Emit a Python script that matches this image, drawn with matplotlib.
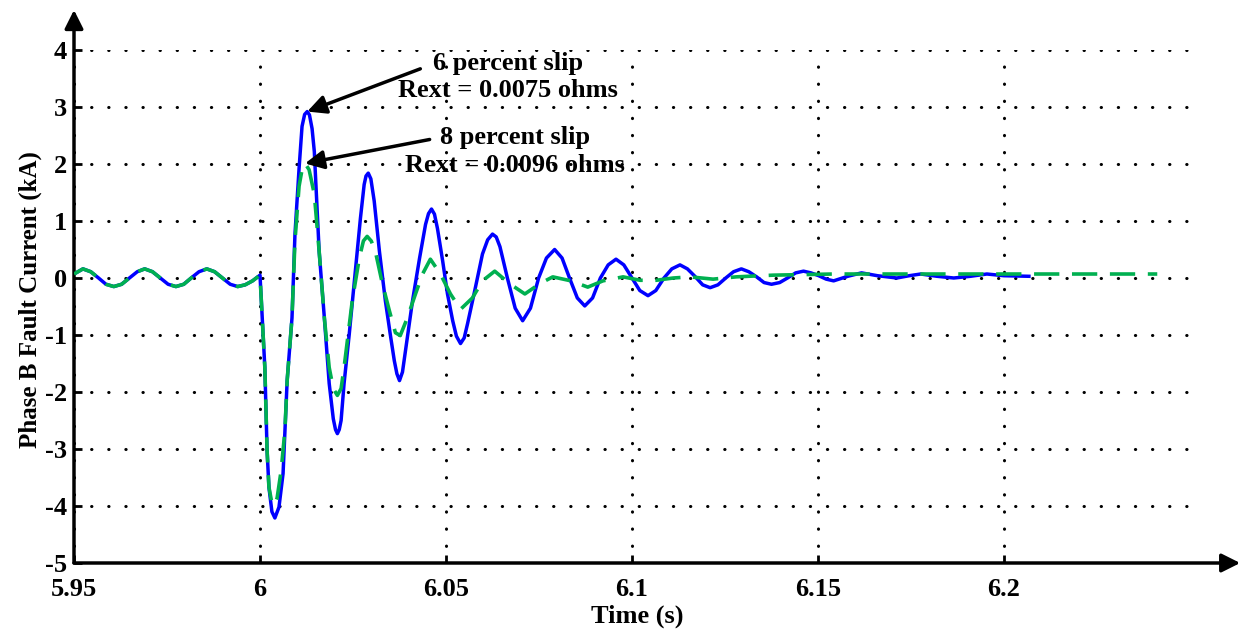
import matplotlib
matplotlib.use("Agg")
import matplotlib.pyplot as plt

plt.rcParams['font.family'] = ['Liberation Serif', 'DejaVu Serif']
plt.rcParams['font.weight'] = 'bold'
plt.rcParams['axes.unicode_minus'] = False

# pre-fault, common to both cases (60 Hz load current)
t_pre = [5.9500, 5.9524, 5.9545, 5.9566, 5.9586, 5.9607, 5.9628, 5.9649, 5.9670,
         5.9690, 5.9711, 5.9732, 5.9753, 5.9774, 5.9795, 5.9815, 5.9836, 5.9857,
         5.9878, 5.9899, 5.9920, 5.9940, 5.9960, 5.9980]
i_pre = [0.07, 0.16, 0.11, 0.0, -0.11, -0.15, -0.11, 0.0, 0.11,
         0.16, 0.11, 0.0, -0.11, -0.15, -0.11, 0.0, 0.11, 0.16,
         0.11, 0.0, -0.11, -0.15, -0.12, -0.05]

# 6 percent slip, Rext = 0.0075 ohms
t_6pct = [6.0000, 6.0005, 6.0013, 6.0019, 6.0024, 6.0032, 6.0040, 6.0051, 6.0062,
          6.0067, 6.0073, 6.0086, 6.0094, 6.0105, 6.0113, 6.0120, 6.0127, 6.0133,
          6.0140, 6.0146, 6.0159, 6.0173, 6.0186, 6.0197, 6.0203, 6.0208, 6.0213,
          6.0218, 6.0226, 6.0240, 6.0253, 6.0270, 6.0280, 6.0285, 6.0291, 6.0298,
          6.0307, 6.0321, 6.0337, 6.0350, 6.0361, 6.0368, 6.0375, 6.0383, 6.0391,
          6.0410, 6.0429, 6.0445, 6.0453, 6.0461, 6.0469, 6.0477, 6.0491, 6.0504,
          6.0518, 6.0528, 6.0539, 6.0549, 6.0558, 6.0577, 6.0598, 6.0612, 6.0625,
          6.0635, 6.0645, 6.0665, 6.0686, 6.0706, 6.0727, 6.0749, 6.0770, 6.0792,
          6.0812, 6.0832, 6.0853, 6.0873, 6.0894, 6.0915, 6.0936, 6.0957, 6.0978,
          6.1000, 6.1021, 6.1043, 6.1064, 6.1086, 6.1107, 6.1129, 6.1149, 6.1169,
          6.1190, 6.1210, 6.1231, 6.1252, 6.1273, 6.1294, 6.1314, 6.1335, 6.1355,
          6.1375, 6.1397, 6.1418, 6.1440, 6.1461, 6.1481, 6.1502, 6.1522, 6.1542,
          6.1580, 6.1617, 6.1660, 6.1712, 6.1745, 6.1776, 6.1820, 6.1865, 6.1910,
          6.1954, 6.2000, 6.2067]
i_6pct = [0.05, -0.58, -1.57, -3.02, -3.67, -4.10, -4.21, -4.02, -3.43,
          -2.67, -1.80, -0.70, 0.77, 1.92, 2.66, 2.87, 2.92, 2.86,
          2.62, 2.22, 0.47, -0.70, -1.85, -2.47, -2.66, -2.73, -2.66,
          -2.50, -1.85, -0.98, -0.10, 1.05, 1.64, 1.79, 1.84, 1.74,
          1.35, 0.47, -0.40, -0.98, -1.45, -1.68, -1.80, -1.65, -1.28,
          -0.40, 0.35, 0.94, 1.13, 1.21, 1.12, 0.87, 0.30, -0.28,
          -0.75, -1.02, -1.15, -1.05, -0.80, -0.23, 0.42, 0.67, 0.77,
          0.72, 0.55, 0.0, -0.53, -0.75, -0.53, 0.0, 0.35, 0.50,
          0.35, 0.0, -0.35, -0.49, -0.35, 0.0, 0.23, 0.33, 0.23,
          0.0, -0.22, -0.31, -0.22, 0.0, 0.16, 0.23, 0.16, 0.03,
          -0.12, -0.17, -0.12, 0.0, 0.11, 0.16, 0.11, 0.02, -0.08,
          -0.11, -0.08, 0.0, 0.09, 0.12, 0.09, 0.04, -0.02, -0.05,
          0.03, 0.09, 0.04, 0.0, 0.04, 0.07, 0.03, 0.0, 0.03,
          0.07, 0.04, 0.03]

# 8 percent slip, Rext = 0.0096 ohms
t_8pct = [6.0000, 6.0005, 6.0013, 6.0019, 6.0024, 6.0032, 6.0038, 6.0046, 6.0057,
          6.0067, 6.0073, 6.0086, 6.0094, 6.0105, 6.0113, 6.0121, 6.0132, 6.0146,
          6.0159, 6.0173, 6.0186, 6.0197, 6.0208, 6.0218, 6.0226, 6.0248, 6.0267,
          6.0278, 6.0288, 6.0299, 6.0310, 6.0329, 6.0348, 6.0364, 6.0377, 6.0396,
          6.0418, 6.0437, 6.0458, 6.0485, 6.0512, 6.0539, 6.0571, 6.0598, 6.0631,
          6.0671, 6.0712, 6.0752, 6.0787, 6.0836, 6.0881, 6.0922, 6.0976, 6.1022,
          6.1065, 6.1111, 6.1156, 6.1218, 6.1280, 6.1380, 6.1542, 6.2412]
i_8pct = [0.05, -0.58, -1.57, -3.02, -3.67, -3.95, -3.99, -3.86, -3.37,
          -2.67, -1.80, -0.70, 0.65, 1.61, 1.90, 2.01, 1.90, 1.47,
          0.47, -0.70, -1.57, -1.94, -2.06, -1.94, -1.57, -0.40, 0.35,
          0.65, 0.73, 0.65, 0.47, -0.10, -0.58, -0.96, -1.01, -0.70,
          -0.28, 0.07, 0.33, 0.07, -0.28, -0.55, -0.35, -0.05, 0.12,
          -0.10, -0.28, -0.10, 0.02, -0.05, -0.16, -0.05, 0.02, -0.04,
          -0.04, 0.0, 0.02, -0.02, 0.02, 0.05, 0.07, 0.07]

x_ticks = [5.95, 6.0, 6.05, 6.1, 6.15, 6.2]
x_tick_labels = ['5.95', '6', '6.05', '6.1', '6.15', '6.2']
y_ticks = [-5, -4, -3, -2, -1, 0, 1, 2, 3, 4]

W, H = 1242, 633
fig = plt.figure(figsize=(W / 100, H / 100), dpi=100)
ax = fig.add_axes([74 / W, (H - 563) / H, (1190 - 74) / W, (563 - 50) / H])

ax.plot(t_pre + t_6pct, i_pre + i_6pct, color='#0000ff', lw=2.5, zorder=3,
        solid_joinstyle='round')
ax.plot(t_pre + t_8pct, i_pre + i_8pct, color='#00b050', lw=2.6,
        linestyle=(0, (7, 3.5)), zorder=4)

ax.set_xlim(5.95, 6.25)
ax.set_ylim(-5, 4)
ax.set_xticks(x_ticks)
ax.set_xticklabels(x_tick_labels)
ax.set_yticks(y_ticks)
ax.tick_params(direction='in', length=6, width=2, labelsize=19)
ax.tick_params(axis='x', pad=11)
ax.tick_params(axis='y', pad=5)
for lab in ax.get_xticklabels() + ax.get_yticklabels():
    lab.set_fontweight('bold')

ax.grid(True, color='black', linestyle=(0, (0.1, 5.5)), linewidth=2.2,
        dash_capstyle='round')
ax.set_axisbelow(True)
for s in ax.spines.values():
    s.set_visible(False)

# axis lines with arrow heads
arrow = dict(arrowstyle='-|>', color='black', lw=2.5, mutation_scale=28,
             shrinkA=0, shrinkB=0)
ax.annotate('', xy=(1.045, 0), xytext=(0, 0), xycoords='axes fraction',
            arrowprops=arrow, annotation_clip=False)
ax.annotate('', xy=(0, 1.078), xytext=(0, 0), xycoords='axes fraction',
            arrowprops=arrow, annotation_clip=False)

# annotations
pointer = dict(arrowstyle='-|>', color='black', lw=2.5, mutation_scale=28,
               shrinkA=0, shrinkB=0)
ax.annotate('', xy=(6.0127, 2.92), xytext=(6.0431, 3.67), arrowprops=pointer)
ax.annotate('', xy=(6.0121, 2.01), xytext=(6.0456, 2.43), arrowprops=pointer)
ax.text(6.0666, 3.53, '6 percent slip\nRext = 0.0075 ohms', ha='center', va='center',
        fontsize=19, fontweight='bold', linespacing=1.25, zorder=5)
ax.text(6.0685, 2.22, '8 percent slip\nRext = 0.0096 ohms', ha='center', va='center',
        fontsize=19, fontweight='bold', linespacing=1.25, zorder=5)

fig.text(30 / W, 1 - 300 / H, 'Phase B Fault Current (kA)', rotation=90,
         ha='center', va='center', fontsize=18, fontweight='bold')
fig.text(637 / W, 1 - 616 / H, 'Time (s)', ha='center', va='center',
         fontsize=19, fontweight='bold')

fig.savefig('out.png', dpi=100)
